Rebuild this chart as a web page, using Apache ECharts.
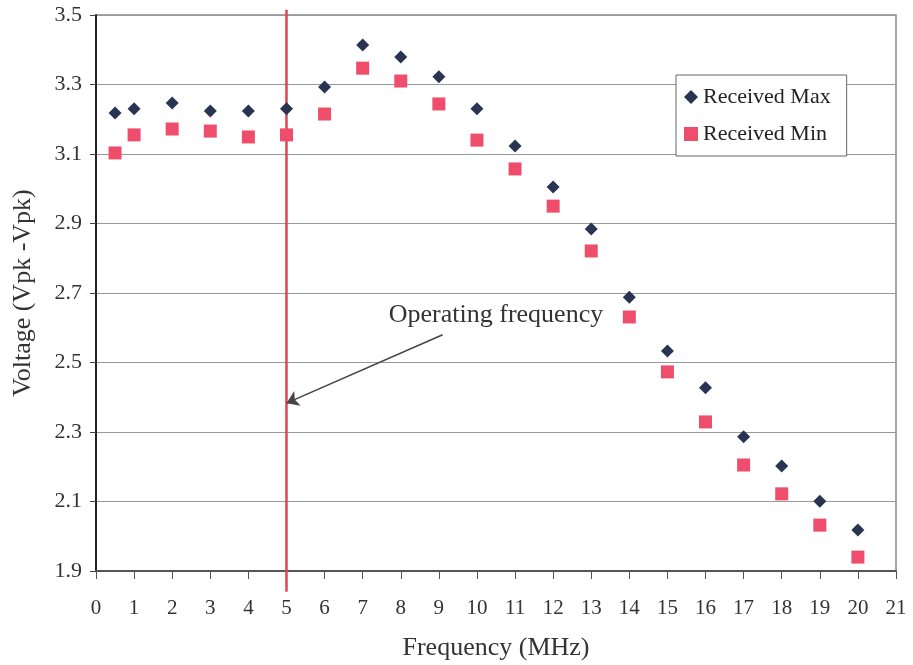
<!DOCTYPE html>
<html>
<head>
<meta charset="utf-8">
<script src="https://cdn.jsdelivr.net/npm/echarts@6/dist/echarts.min.js"></script>
<style>
	html, body { margin: 0; padding: 0; background: #fff; }
	#chart { width: 913px; height: 665px; }
</style>
</head>
<body>
<div id="chart"></div>
<script>
var freqs = [0.5, 1, 2, 3, 4, 5, 6, 7, 8, 9, 10, 11, 12, 13, 14, 15, 16, 17, 18, 19, 20];
var receivedMax = [3.218, 3.23, 3.247, 3.224, 3.224, 3.23, 3.293, 3.414, 3.379, 3.322, 3.23, 3.123, 3.005, 2.884, 2.688, 2.533, 2.427, 2.286, 2.202, 2.101, 2.018];
var receivedMin = [3.103, 3.155, 3.172, 3.166, 3.149, 3.155, 3.215, 3.347, 3.31, 3.244, 3.14, 3.057, 2.95, 2.821, 2.631, 2.473, 2.329, 2.205, 2.122, 2.032, 1.94];
var operatingLine = [[5, 3.515], [5, 1.84]];
var arrowFrom = [9.1, 2.58];
var arrowTo = [5.0, 2.383];
var labelAt = [10.5, 2.635];

var font = 'Liberation Serif, DejaVu Serif, serif';

function pairs(xs, ys) {
	var out = [];
	for (var i = 0; i < xs.length; i++) {
		out.push([xs[i], ys[i]]);
	}
	return out;
}

var myChart = echarts.init(document.getElementById('chart'));
var option = {
	animation: false,
	backgroundColor: '#fff',
	textStyle: { fontFamily: font },
	grid: {
		left: 96, right: 17, top: 15, bottom: 94,
		outerBoundsMode: 'none',
		containLabel: false,
		show: true, borderColor: '#8a8a8a', borderWidth: 1.5
	},
	legend: {
		orient: 'vertical',
		left: 676, top: 75,
		padding: [11, 16, 11, 8],
		itemGap: 15,
		itemWidth: 14, itemHeight: 14,
		borderColor: '#666', borderWidth: 1,
		backgroundColor: '#fff',
		textStyle: { fontFamily: font, fontSize: 22, color: '#222' },
		data: [
			{ name: 'Received Max', icon: 'diamond' },
			{ name: 'Received Min', icon: 'rect' }
		]
	},
	xAxis: {
		type: 'value',
		min: 0, max: 21, interval: 1,
		name: 'Frequency (MHz)',
		nameLocation: 'middle',
		nameGap: 64,
		nameTextStyle: { fontFamily: font, fontSize: 26, color: '#333' },
		axisLine: { lineStyle: { color: '#555', width: 2 } },
		axisTick: { show: true, length: 8, lineStyle: { color: '#555' } },
		axisLabel: { fontFamily: font, fontSize: 21, color: '#333', margin: 27 },
		splitLine: { show: false }
	},
	yAxis: {
		type: 'value',
		min: 1.9, max: 3.5, interval: 0.2,
		name: 'Voltage (Vpk -Vpk)',
		nameLocation: 'middle',
		nameGap: 60,
		nameTextStyle: { fontFamily: font, fontSize: 26, color: '#333' },
		axisLine: { show: true, lineStyle: { color: '#222', width: 2 } },
		axisTick: { show: true, length: 6, lineStyle: { color: '#444' } },
		axisLabel: {
			fontFamily: font, fontSize: 22, color: '#333', margin: 14,
			formatter: function (v) { return v.toFixed(1); }
		},
		splitLine: { show: true, lineStyle: { color: '#999', width: 1.2 } }
	},
	series: [
		{
			name: 'Operating line',
			type: 'line',
			data: operatingLine,
			clip: false,
			showSymbol: false,
			symbol: 'none',
			silent: true,
			lineStyle: { color: '#e0454f', width: 2.5 },
			z: 1
		},
		{
			name: 'Received Max',
			type: 'scatter',
			symbol: 'diamond',
			symbolSize: 13,
			itemStyle: { color: '#283452', opacity: 1 },
			data: pairs(freqs, receivedMax),
			z: 3
		},
		{
			name: 'Received Min',
			type: 'scatter',
			symbol: 'rect',
			symbolSize: 13,
			itemStyle: { color: '#ef4d6c', opacity: 1 },
			data: pairs(freqs, receivedMin),
			markLine: {
				silent: true,
				animation: false,
				data: [
					[
						{ coord: arrowFrom, symbol: 'none' },
						{ coord: arrowTo, symbol: 'arrow', symbolSize: 12 }
					]
				],
				label: { show: false },
				lineStyle: { type: 'solid', color: '#444', width: 1.5 }
			},
			markPoint: {
				silent: true,
				symbol: 'circle',
				symbolSize: 0,
				data: [{ coord: labelAt, value: 'Operating frequency' }],
				label: {
					show: true,
					formatter: 'Operating frequency',
					fontFamily: font, fontSize: 26, color: '#333'
				}
			},
			z: 2
		}
	]
};

myChart.setOption(option);
</script>
</body>
</html>
